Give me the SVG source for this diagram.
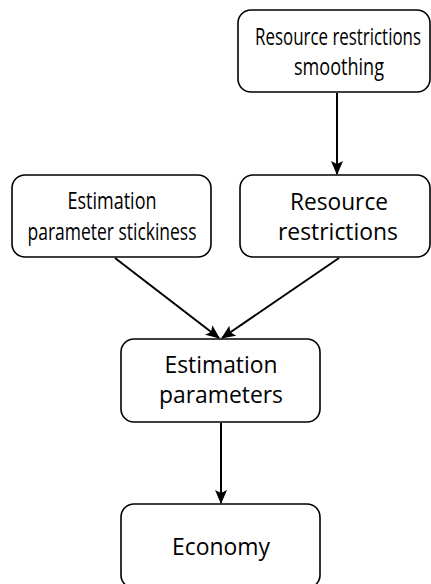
<svg xmlns="http://www.w3.org/2000/svg" width="431" height="584" viewBox="0 0 431 584">
  <style>
    .box { fill: #ffffff; stroke: #000000; stroke-width: 1.6; }
    .lbl { font-family: "Open Sans", "Noto Sans", sans-serif; font-size: 24px; fill: #000000; text-anchor: middle; }
    .tight { font-size: 23px; }
    .edge { fill: none; stroke: #000000; stroke-width: 2; marker-end: url(#head); }
  </style>
  <defs>
    <marker id="head" viewBox="0 0 14 12" refX="13" refY="6" markerWidth="14" markerHeight="12" markerUnits="userSpaceOnUse" orient="auto">
      <path d="M0,0 L14,6 L0,12 L3,6 Z" fill="#000000"/>
    </marker>
  </defs>
  <rect width="431" height="584" fill="#ffffff"/>

  <g id="connectors">
    <line class="edge" x1="337" y1="93" x2="337" y2="174"/>
    <line class="edge" x1="115" y1="258" x2="219" y2="338"/>
    <line class="edge" x1="339" y1="258" x2="222" y2="338"/>
    <line class="edge" x1="221" y1="423" x2="221" y2="503"/>
  </g>

  <g id="node-smoothing">
    <rect class="box" x="238" y="10" width="192" height="82" rx="13"/>
    <text class="lbl tight" x="338" y="45" textLength="166" lengthAdjust="spacingAndGlyphs">Resource restrictions</text>
    <text class="lbl tight" x="339" y="75" textLength="90" lengthAdjust="spacingAndGlyphs">smoothing</text>
  </g>

  <g id="node-stickiness">
    <rect class="box" x="12" y="175" width="199" height="82" rx="13"/>
    <text class="lbl tight" x="112" y="209" textLength="89" lengthAdjust="spacingAndGlyphs">Estimation</text>
    <text class="lbl tight" x="112" y="240" textLength="169" lengthAdjust="spacingAndGlyphs">parameter stickiness</text>
  </g>

  <g id="node-restrictions">
    <rect class="box" x="240" y="175" width="190" height="82" rx="13"/>
    <text class="lbl" x="339" y="210" textLength="98" lengthAdjust="spacingAndGlyphs">Resource</text>
    <text class="lbl" x="338" y="240" textLength="120" lengthAdjust="spacingAndGlyphs">restrictions</text>
  </g>

  <g id="node-parameters">
    <rect class="box" x="121" y="339" width="199" height="83" rx="13"/>
    <text class="lbl" x="221" y="373" textLength="113" lengthAdjust="spacingAndGlyphs">Estimation</text>
    <text class="lbl" x="221" y="403" textLength="124" lengthAdjust="spacingAndGlyphs">parameters</text>
  </g>

  <g id="node-economy">
    <rect class="box" x="121" y="504" width="199" height="84" rx="13"/>
    <text class="lbl" x="221" y="555" textLength="98" lengthAdjust="spacingAndGlyphs">Economy</text>
  </g>
</svg>
